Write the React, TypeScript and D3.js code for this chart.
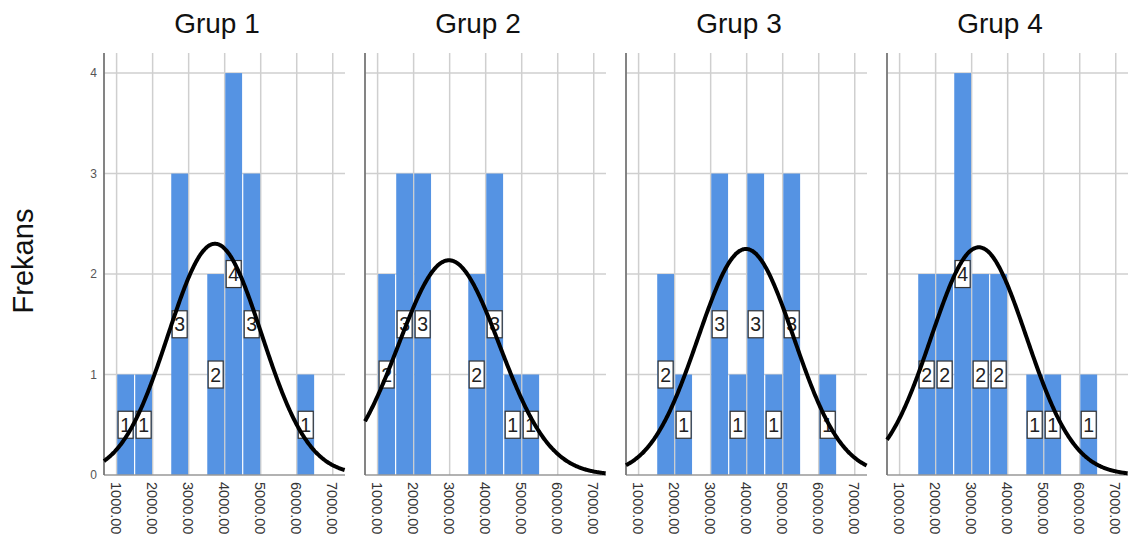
import React from "react";
import * as d3 from "d3";

const groups = ["Grup 1", "Grup 2", "Grup 3", "Grup 4"];
const binStarts = [1000, 1500, 2000, 2500, 3000, 3500, 4000, 4500, 5000, 5500, 6000, 6500];
const binWidth = 500;
const counts1 = [1, 1, 0, 3, 0, 2, 4, 3, 0, 0, 1, 0];
const counts2 = [2, 3, 3, 0, 0, 2, 3, 1, 1, 0, 0, 0];
const counts3 = [0, 2, 1, 0, 3, 1, 3, 1, 3, 0, 1, 0];
const counts4 = [0, 2, 2, 4, 2, 2, 0, 1, 1, 0, 1, 0];
const allCounts = [counts1, counts2, counts3, counts4];
const means = [3730, 2980, 3980, 3200];
const sds = [1300, 1400, 1330, 1320];
const xTicks = [1000, 2000, 3000, 4000, 5000, 6000, 7000];
const yTicks = [0, 1, 2, 3, 4];
const yLabel = "Frekans";

const W = 1135;
const H = 541;
const panelW = 241;
const panelGap = 261;
const firstLeft = 104;
const top = 53;
const bottom = 475;
const font = "'Liberation Sans', Arial, sans-serif";
const barColor = "#5593e3";

function Panel({ idx }: { idx: number }) {
  const left = firstLeft + idx * panelGap;
  const x = d3.scaleLinear().domain([650, 7340]).range([left, left + panelW]);
  const y = d3.scaleLinear().domain([0, 4.2]).range([bottom, top]);
  const counts = allCounts[idx];
  const n = d3.sum(counts);
  const mu = means[idx];
  const sd = sds[idx];
  const xs = d3.range(650, 7341, 20);
  const line = d3
    .line<number>()
    .x((v) => x(v))
    .y((v) => y((n * binWidth * Math.exp(-0.5 * ((v - mu) / sd) ** 2)) / (sd * Math.sqrt(2 * Math.PI))))
    .curve(d3.curveBasis);
  return (
    <g>
      <text x={left + 113} y={33} textAnchor="middle" fontSize={28} fontFamily={font} fill="#111">
        {groups[idx]}
      </text>
      {xTicks.map((t) => (
        <line key={"vx" + t} x1={x(t)} x2={x(t)} y1={top} y2={bottom} stroke="#cfcfcf" strokeWidth={1.5} />
      ))}
      {yTicks.filter((t) => t > 0).map((t) => (
        <line key={"hy" + t} x1={left} x2={left + panelW} y1={y(t)} y2={y(t)} stroke="#cfcfcf" strokeWidth={1.5} />
      ))}
      {binStarts.map((b, i) =>
        counts[i] > 0 ? (
          <rect
            key={"bar" + b}
            x={x(b) + 0.6}
            y={y(counts[i])}
            width={x(b + binWidth) - x(b) - 1.2}
            height={y(0) - y(counts[i])}
            fill={barColor}
          />
        ) : null
      )}
      <line x1={left} x2={left + panelW} y1={bottom} y2={bottom} stroke="#999" strokeWidth={1.5} />
      <line x1={left} x2={left} y1={top} y2={bottom} stroke="#777" strokeWidth={1.8} />
      {binStarts.map((b, i) =>
        counts[i] > 0 ? (
          <g key={"lab" + b} transform={`translate(${x(b + binWidth / 2)},${y(counts[i] / 2)})`}>
            <rect x={-7.5} y={-13.5} width={15} height={27} fill="#fff" stroke="#333" strokeWidth={1.2} />
            <text x={0} y={7} textAnchor="middle" fontSize={19.5} fontFamily={font} fill="#222">
              {counts[i]}
            </text>
          </g>
        ) : null
      )}
      <path d={line(xs) || ""} fill="none" stroke="#000" strokeWidth={4} />
      {xTicks.map((t) => (
        <text
          key={"xl" + t}
          transform={`translate(${x(t) - 1},${482}) rotate(90)`}
          textAnchor="start"
          dominantBaseline="central"
          fontSize={14.5}
          fontFamily={font}
          fill="#333"
        >
          {t.toFixed(2)}
        </text>
      ))}
      {idx === 0 &&
        yTicks.map((t) => (
          <text
            key={"yl" + t}
            x={left - 7}
            y={y(t)}
            textAnchor="end"
            dominantBaseline="central"
            fontSize={12}
            fontFamily={font}
            fill="#555"
          >
            {t}
          </text>
        ))}
    </g>
  );
}

export default function App() {
  return (
    <svg
      width={W}
      height={H}
      style={{ position: "absolute", left: 0, top: 0, background: "#fff" }}
    >
      <rect x={0} y={0} width={W} height={H} fill="#fff" />
      <text
        transform={`translate(33,261) rotate(-90)`}
        textAnchor="middle"
        fontSize={29}
        fontFamily={font}
        fill="#111"
      >
        {yLabel}
      </text>
      {groups.map((g, i) => (
        <Panel key={g} idx={i} />
      ))}
    </svg>
  );
}
